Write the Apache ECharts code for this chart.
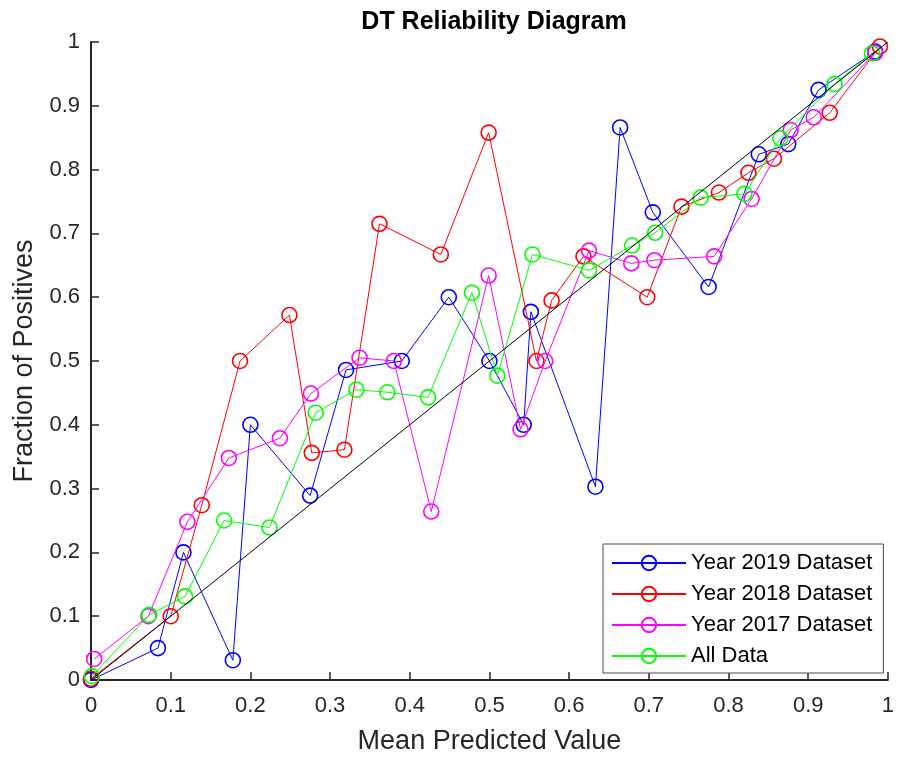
<!DOCTYPE html>
<html>
<head>
<meta charset="utf-8">
<script src="https://cdn.jsdelivr.net/npm/echarts@6/dist/echarts.min.js"></script>
<style>
  html, body { margin: 0; padding: 0; background: #ffffff; }
  #chart { width: 897px; height: 764px; }
</style>
</head>
<body>
<div id="chart"></div>
<script>
// Reliability curves: mean predicted value (x) vs. fraction of positives (y)
const seriesNames = ['Year 2019 Dataset', 'Year 2018 Dataset', 'Year 2017 Dataset', 'All Data'];

const x2019 = [0, 0.084, 0.116, 0.178, 0.2, 0.275, 0.32, 0.39, 0.449, 0.5, 0.543, 0.552, 0.633, 0.664, 0.705, 0.775, 0.838, 0.875, 0.913, 0.984];
const y2019 = [0, 0.05, 0.2, 0.031, 0.4, 0.289, 0.486, 0.5, 0.6, 0.5, 0.4, 0.577, 0.303, 0.866, 0.733, 0.616, 0.824, 0.84, 0.925, 0.985];

const x2018 = [0, 0.1, 0.139, 0.187, 0.249, 0.277, 0.318, 0.362, 0.439, 0.499, 0.559, 0.578, 0.618, 0.698, 0.741, 0.788, 0.825, 0.857, 0.927, 0.99];
const y2018 = [0.002, 0.1, 0.274, 0.5, 0.572, 0.356, 0.361, 0.715, 0.667, 0.858, 0.5, 0.595, 0.664, 0.6, 0.742, 0.764, 0.795, 0.817, 0.889, 0.993];

const x2017 = [0.004, 0.072, 0.121, 0.173, 0.237, 0.276, 0.337, 0.38, 0.427, 0.499, 0.539, 0.57, 0.625, 0.678, 0.707, 0.782, 0.829, 0.878, 0.907, 0.984];
const y2017 = [0.033, 0.1, 0.248, 0.348, 0.379, 0.449, 0.505, 0.5, 0.264, 0.634, 0.393, 0.5, 0.673, 0.653, 0.658, 0.664, 0.754, 0.862, 0.882, 0.983];

const xAll = [0.001, 0.073, 0.118, 0.167, 0.224, 0.282, 0.333, 0.372, 0.423, 0.478, 0.51, 0.554, 0.625, 0.679, 0.708, 0.765, 0.82, 0.865, 0.933, 0.98];
const yAll = [0.006, 0.102, 0.131, 0.25, 0.239, 0.419, 0.455, 0.451, 0.443, 0.607, 0.477, 0.667, 0.642, 0.681, 0.701, 0.756, 0.762, 0.849, 0.934, 0.982];

// Perfectly calibrated reference
const xDiag = [0, 1];
const yDiag = [0, 1];

const colors = ['#0000ff', '#ff0000', '#ff00ff', '#00ff00'];
const xs = [x2019, x2018, x2017, xAll];
const ys = [y2019, y2018, y2017, yAll];

const axisColor = '#262626';
const textFont = '"Liberation Sans", Arial, Helvetica, sans-serif';

function pairs(xv, yv) {
  return xv.map((v, i) => [v, yv[i]]);
}

const curveSeries = seriesNames.map((name, i) => ({
  name: name,
  type: 'line',
  data: pairs(xs[i], ys[i]),
  symbol: 'circle',
  symbolSize: 15,
  showAllSymbol: true,
  lineStyle: { color: colors[i], width: 1 },
  itemStyle: { color: 'rgba(0,0,0,0)', borderColor: colors[i], borderWidth: 1.6 },
  emphasis: { disabled: true },
  animation: false,
  z: 2 + i
}));

const diagSeries = {
  name: 'diag',
  type: 'line',
  data: pairs(xDiag, yDiag),
  symbol: 'none',
  lineStyle: { color: '#000000', width: 1 },
  emphasis: { disabled: true },
  animation: false,
  z: 10
};

const chart = echarts.init(document.getElementById('chart'), null, { renderer: 'canvas' });
chart.setOption({
  backgroundColor: '#ffffff',
  animation: false,
  title: {
    text: 'DT Reliability Diagram',
    left: 489,
    top: 5,
    textAlign: 'center',
    textStyle: {
      fontFamily: textFont,
      fontWeight: 'bold',
      fontSize: 25,
      color: '#000000'
    }
  },
  grid: { left: 91, right: 8, top: 42, bottom: 84, containLabel: false },
  xAxis: {
    type: 'value',
    min: 0, max: 1, interval: 0.1,
    name: 'Mean Predicted Value',
    nameLocation: 'middle',
    nameGap: 48,
    nameTextStyle: { fontFamily: textFont, fontSize: 27, color: axisColor },
    axisLine: { show: true, onZero: false, lineStyle: { color: axisColor, width: 2 } },
    axisTick: { show: true, inside: true, length: 8, lineStyle: { color: axisColor, width: 1.5 } },
    axisLabel: { fontFamily: textFont, fontSize: 22, color: axisColor, margin: 15 },
    splitLine: { show: false }
  },
  yAxis: {
    type: 'value',
    min: 0, max: 1, interval: 0.1,
    name: 'Fraction of Positives',
    nameLocation: 'middle',
    nameGap: 49,
    nameTextStyle: { fontFamily: textFont, fontSize: 27, color: axisColor },
    axisLine: { show: true, onZero: false, lineStyle: { color: axisColor, width: 2 } },
    axisTick: { show: true, inside: true, length: 8, lineStyle: { color: axisColor, width: 1.5 } },
    axisLabel: { fontFamily: textFont, fontSize: 22, color: axisColor, margin: 11 },
    splitLine: { show: false }
  },
  legend: {
    data: seriesNames,
    orient: 'vertical',
    left: 603,
    top: 544,
    padding: [8, 11, 6, 8],
    itemWidth: 74,
    itemHeight: 18,
    itemGap: 9,
    backgroundColor: '#ffffff',
    borderColor: '#4d4d4d',
    borderWidth: 1,
    borderRadius: 0,
    selectedMode: false,
    textStyle: { fontFamily: textFont, fontSize: 22, color: '#000000' }
  },
  series: curveSeries.concat([diagSeries])
});
</script>
</body>
</html>
